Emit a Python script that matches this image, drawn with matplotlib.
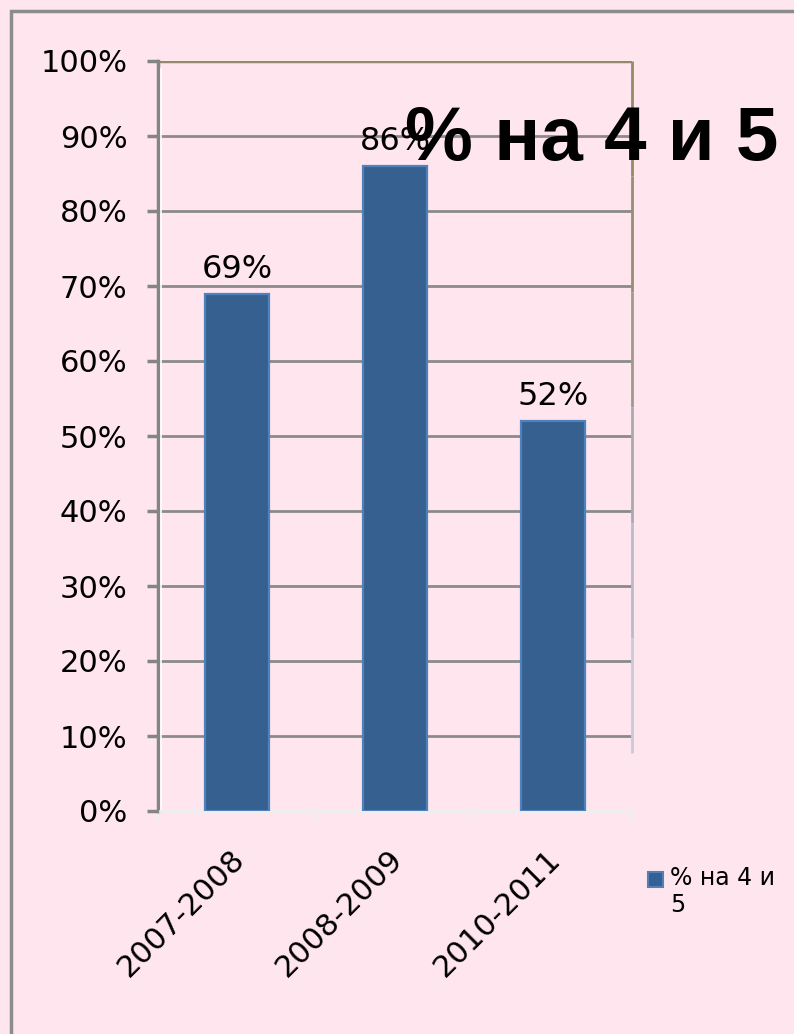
import numpy as np
import matplotlib.pyplot as plt
import matplotlib.ticker as ticker
import matplotlib.transforms as mtransforms
from matplotlib.patches import Rectangle

# Data
years = ['2007-2008', '2008-2009', '2010-2011']
share = [69, 86, 52]          # % of "4" and "5" marks
series_name = '% на 4 и 5'

bg = '#ffe6ee'
bar_fill = '#36608f'
bar_edge = '#4f81bd'
grid_col = '#8a8a8a'

plt.rcParams['font.family'] = ['DejaVu Sans']

W, H = 794, 1034
fig = plt.figure(figsize=(W / 100, H / 100), dpi=100, facecolor=bg)

# outer frame of the slide
fig.patches.append(Rectangle((11 / W, -0.05), 1.2, 1 - 11 / H + 0.05,
                             transform=fig.transFigure, fill=False,
                             edgecolor='#8c8c8c', linewidth=2.5))

ax = fig.add_axes([158 / W, 1 - 811 / H, (632 - 158) / W, (811 - 61) / H])
ax.set_facecolor(bg)

x = np.arange(len(years))
ax.bar(x, share, width=0.405, color=bar_fill, edgecolor=bar_edge,
       linewidth=1.6, zorder=3)
for xi, v in zip(x, share):
    ax.text(xi, v + 2.1, f'{v}%', ha='center', va='baseline', fontsize=23,
            color='black', zorder=4)

ax.set_xlim(-0.5, len(years) - 0.5)
ax.set_ylim(0, 100)

# horizontal gridlines
for g in range(10, 100, 10):
    ax.axhline(g, color=grid_col, linewidth=2, zorder=1)

# spines
for s in ['top', 'right', 'bottom', 'left']:
    ax.spines[s].set_visible(False)
ax.axhline(100, color='#928b6a', linewidth=2.5, zorder=2)
ax.plot([0, 0], [0, 1], transform=ax.transAxes,
        color='#858585', linewidth=2.5, zorder=2, clip_on=False)
ax.plot([0.006, 0.006], [0, 0.99], transform=ax.transAxes,
        color='white', linewidth=1.2, zorder=2, clip_on=False)
ax.plot([0.004, 1], [0, 0], transform=ax.transAxes, color='#eeeeee',
        linewidth=2, zorder=2, clip_on=False)
# right border fading from olive to grey-blue
rc = ['#928b6a', '#939077', '#9a9a8e', '#a8aab0', '#b8bcc8', '#c8ccd8']
seg = np.linspace(1.0, 0.077, len(rc) + 1)
for c, y0, y1 in zip(rc, seg[:-1], seg[1:]):
    ax.plot([1, 1], [y0, y1], transform=ax.transAxes, color=c,
            linewidth=2, zorder=2, clip_on=False, solid_capstyle='butt')

# y ticks
ax.yaxis.set_major_locator(ticker.MultipleLocator(10))
ax.yaxis.set_major_formatter(ticker.FuncFormatter(lambda v, p: f'{v:.0f}%'))
ax.tick_params(axis='y', direction='out', length=8, width=2.5,
               color='#858585', pad=14, labelsize=22)

# x ticks at category boundaries, labels at centres
ax.set_xticks(x)
ax.set_xticklabels(years, rotation=45, ha='right', va='top',
                   rotation_mode='anchor', fontsize=22)
ax.tick_params(axis='x', length=0, pad=24)
shift = mtransforms.ScaledTranslation(-7 / 100, 0, fig.dpi_scale_trans)
for lab in ax.get_xticklabels():
    lab.set_transform(lab.get_transform() + shift)
ax.set_xticks(np.arange(-0.5, len(years), 1), minor=True)
ax.tick_params(axis='x', which='minor', length=7, width=2, color='#eeeeee',
               direction='out')

# title over the right part of the chart
fig.text(592 / W, 1 - 160 / H, series_name, ha='center', va='baseline',
         fontsize=55, fontweight='bold', color='black',
         family=['Liberation Sans', 'DejaVu Sans'])

# legend
fig.patches.append(Rectangle((648 / W, 1 - 887 / H), 15 / W, 15 / H,
                             transform=fig.transFigure, facecolor=bar_fill,
                             edgecolor=bar_edge, linewidth=1.5))
fig.text(670 / W, 1 - 866 / H, '% на 4 и\n5', ha='left', va='top',
         fontsize=17, linespacing=1.15, color='black')

fig.savefig('out.png', dpi=100, facecolor=bg)
